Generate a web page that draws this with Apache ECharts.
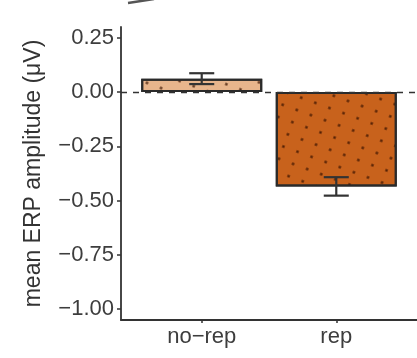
<!DOCTYPE html>
<html><head><meta charset="utf-8">
<script src="https://cdn.jsdelivr.net/npm/echarts@6/dist/echarts.min.js"></script>
<style>html,body{margin:0;padding:0;background:#fff}#c{width:417px;height:358px}</style>
</head><body><div id="c"></div>
<script>
const categories = ['no\u2212rep', 'rep'];
const means = [0.062, -0.435];
const errLow = [0.037, -0.477];
const errHigh = [0.087, -0.392];
const yTicks = [-1.00, -0.75, -0.50, -0.25, 0.00, 0.25];
const barColors = ['#E8B58C', '#C8621C'];

const chart = echarts.init(document.getElementById('c'));
const fmt = v => (v < 0 ? '\u2212' : '') + Math.abs(v).toFixed(2);
const decal = {
  symbol: 'rect', symbolSize: 0.8, color: 'rgba(60,20,0,0.85)',
  dashArrayX: [[3, 12]], dashArrayY: [3, 10], rotation: 0.35
};
const font = 'Liberation Sans';
chart.setOption({
  animation: false,
  aria: { enabled: true, decal: { show: true } },
  grid: { left: 121, right: -1, top: 27, bottom: 38 },
  xAxis: {
    type: 'value', min: 0.4, max: 2.6,
    axisLine: { show: true, onZero: false, lineStyle: { color: '#333', width: 1.8 } },
    axisTick: { show: true, length: 3, customValues: [1, 2], lineStyle: { color: '#333', width: 1.5 } },
    axisLabel: { customValues: [1, 2], formatter: v => categories[Math.round(v) - 1], color: '#3d3d3d', fontSize: 22, fontFamily: font, margin: 6 },
    splitLine: { show: false }
  },
  yAxis: {
    type: 'value', min: -1.05, max: 0.30,
    name: 'mean ERP amplitude (\u03bcV)', nameLocation: 'middle', nameGap: 76,
    nameTextStyle: { color: '#333', fontSize: 23, fontFamily: font },
    axisLine: { show: true, onZero: false, lineStyle: { color: '#333', width: 1.8 } },
    axisTick: { show: true, length: 4, customValues: yTicks, lineStyle: { color: '#333', width: 1.5 } },
    axisLabel: { customValues: yTicks, formatter: fmt, color: '#3d3d3d', fontSize: 22, fontFamily: font, margin: 7 },
    splitLine: { show: false }
  },
  graphic: [{ type: 'line', shape: { x1: 128, y1: 3, x2: 154, y2: -1 }, style: { stroke: '#555', lineWidth: 2.5 } }],
  series: [
    {
      type: 'line', data: [], z: 1, silent: true,
      markLine: {
        symbol: 'none', silent: true, label: { show: false },
        lineStyle: { type: [6, 6], color: '#333', width: 1.3 },
        data: [{ yAxis: 0 }]
      }
    },
    {
      type: 'bar', z: 3, barWidth: 121,
      data: means.map((m, i) => ({
        value: [i + 1, m],
        itemStyle: { color: barColors[i], borderColor: '#2a2a2a', borderWidth: 2, decal: decal }
      }))
    },
    {
      type: 'custom', z: 5,
      data: means.map((m, i) => [i + 1, errLow[i], errHigh[i]]),
      renderItem: (params, api) => {
        const x = api.value(0);
        const lo = api.coord([x, api.value(1)]);
        const hi = api.coord([x, api.value(2)]);
        const hw = api.size([0.093, 0])[0];
        const st = { stroke: '#333', lineWidth: 2.2 };
        return {
          type: 'group', children: [
            { type: 'line', shape: { x1: lo[0], y1: lo[1], x2: hi[0], y2: hi[1] }, style: st },
            { type: 'line', shape: { x1: lo[0] - hw, y1: lo[1], x2: lo[0] + hw, y2: lo[1] }, style: st },
            { type: 'line', shape: { x1: hi[0] - hw, y1: hi[1], x2: hi[0] + hw, y2: hi[1] }, style: st }
          ]
        };
      }
    }
  ]
});
</script></body></html>
